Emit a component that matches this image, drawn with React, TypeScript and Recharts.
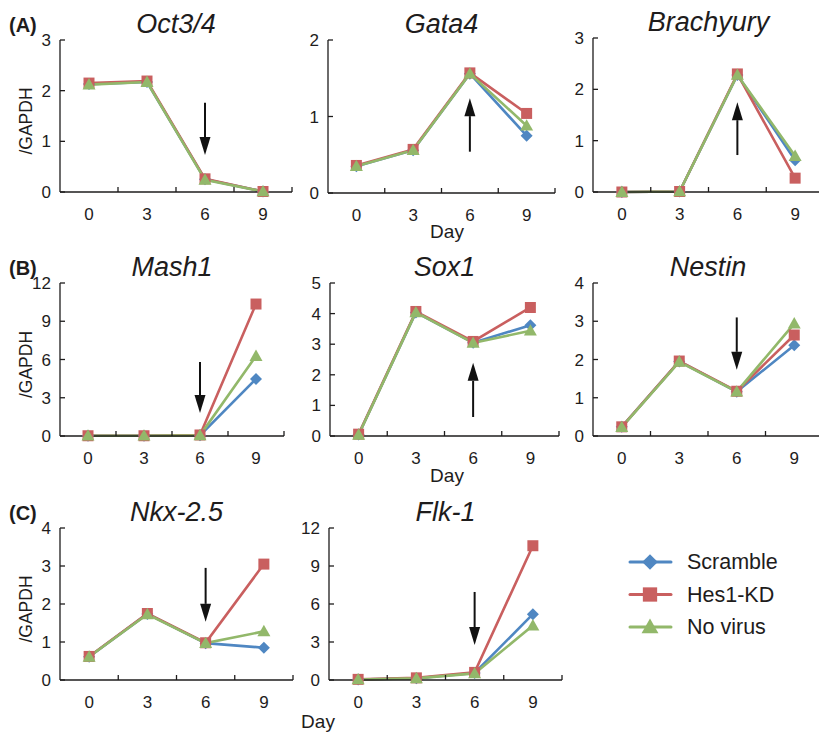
import React from "react";
import { LineChart, Line, XAxis, YAxis, ReferenceLine } from "recharts";

// days of differentiation
const days = [0, 3, 6, 9];
const dayTicks = [-1.5, 0, 1.5, 3, 4.5, 6, 7.5, 9, 10.5];

// relative expression (/GAPDH), one array per gene and condition
const oct4Scr = [2.13, 2.17, 0.25, 0.01];
const oct4Hes = [2.15, 2.19, 0.26, 0.01];
const oct4Nov = [2.12, 2.17, 0.24, 0.01];

const gata4Scr = [0.35, 0.56, 1.56, 0.75];
const gata4Hes = [0.36, 0.57, 1.57, 1.04];
const gata4Nov = [0.35, 0.56, 1.56, 0.88];

const brachScr = [0, 0.01, 2.28, 0.62];
const brachHes = [0, 0.01, 2.3, 0.27];
const brachNov = [0, 0.01, 2.28, 0.7];

const mash1Scr = [0.02, 0.02, 0.05, 4.47];
const mash1Hes = [0.02, 0.02, 0.08, 10.35];
const mash1Nov = [0.02, 0.02, 0.05, 6.27];

const sox1Scr = [0.05, 4.04, 3.05, 3.62];
const sox1Hes = [0.06, 4.07, 3.09, 4.2];
const sox1Nov = [0.04, 4.04, 3.04, 3.44];

const nestinScr = [0.24, 1.95, 1.16, 2.37];
const nestinHes = [0.24, 1.96, 1.17, 2.64];
const nestinNov = [0.23, 1.94, 1.16, 2.94];

const nkxScr = [0.61, 1.74, 0.97, 0.85];
const nkxHes = [0.62, 1.75, 0.98, 3.05];
const nkxNov = [0.61, 1.73, 0.97, 1.28];

const flk1Scr = [0.04, 0.14, 0.55, 5.2];
const flk1Hes = [0.05, 0.17, 0.6, 10.6];
const flk1Nov = [0.04, 0.13, 0.52, 4.3];

// arrow annotations at day 6: [tail, tip] in /GAPDH units
const oct4Arrow = [1.76, 0.73];
const gata4Arrow = [0.54, 1.24];
const brachArrow = [0.72, 1.75];
const mash1Arrow = [5.8, 1.8];
const sox1Arrow = [0.62, 2.39];
const nestinArrow = [3.1, 1.73];
const nkxArrow = [2.95, 1.53];
const flk1Arrow = [6.95, 2.76];

const series = [
  { key: "scr", name: "Scramble", color: "#4f87c2", shape: "diamond" },
  { key: "hes", name: "Hes1-KD", color: "#c95f5f", shape: "square" },
  { key: "nov", name: "No virus", color: "#92b86a", shape: "triangle" },
];

const INK = "#1e1c1c";
const FONT = "'Liberation Sans', Arial, sans-serif";

const panels = [
  { title: "Oct3/4", scr: oct4Scr, hes: oct4Hes, nov: oct4Nov, max: 3, step: 1, arrow: oct4Arrow, box: [60, 292, 40, 192], ylab: true, tag: "(A)" },
  { title: "Gata4", scr: gata4Scr, hes: gata4Hes, nov: gata4Nov, max: 2, step: 1, arrow: gata4Arrow, box: [328, 555, 40, 193] },
  { title: "Brachyury", scr: brachScr, hes: brachHes, nov: brachNov, max: 3, step: 1, arrow: brachArrow, box: [593, 824, 38, 192] },
  { title: "Mash1", scr: mash1Scr, hes: mash1Hes, nov: mash1Nov, max: 12, step: 3, arrow: mash1Arrow, box: [60, 284, 283, 436], ylab: true, tag: "(B)" },
  { title: "Sox1", scr: sox1Scr, hes: sox1Hes, nov: sox1Nov, max: 5, step: 1, arrow: sox1Arrow, box: [330, 559, 283, 436] },
  { title: "Nestin", scr: nestinScr, hes: nestinHes, nov: nestinNov, max: 4, step: 1, arrow: nestinArrow, box: [593, 823, 283, 436] },
  { title: "Nkx-2.5", scr: nkxScr, hes: nkxHes, nov: nkxNov, max: 4, step: 1, arrow: nkxArrow, box: [60, 293, 528, 680], ylab: true, tag: "(C)" },
  { title: "Flk-1", scr: flk1Scr, hes: flk1Hes, nov: flk1Nov, max: 12, step: 3, arrow: flk1Arrow, box: [329, 562, 528, 680] },
];

const dayLabels = [
  { x: 447, y: 238 },
  { x: 447, y: 482 },
  { x: 318, y: 728 },
];

function markerPath(shape: string, cx: number, cy: number) {
  if (shape === "diamond") {
    const r = 6;
    return `M${cx},${cy - r}L${cx + r},${cy}L${cx},${cy + r}L${cx - r},${cy}Z`;
  }
  if (shape === "square") {
    const r = 5.5;
    return `M${cx - r},${cy - r}h${2 * r}v${2 * r}h${-2 * r}Z`;
  }
  const r = 6.5;
  return `M${cx},${cy - r}L${cx + r},${cy + r * 0.75}L${cx - r},${cy + r * 0.75}Z`;
}

const makeDot = (shape: string, color: string) => (p: any) => {
  const { cx, cy, index } = p;
  if (cx == null || cy == null) return <g key={`${shape}-${index}`} />;
  return <path key={`${shape}-${index}`} d={markerPath(shape, cx, cy)} fill={color} />;
};

const XTick = (p: any) => {
  const { x, y, payload } = p;
  const v = payload.value;
  if (days.includes(v)) {
    return (
      <text x={x} y={y + 28} textAnchor="middle" fontSize={17} fill={INK}>
        {v}
      </text>
    );
  }
  if (v === -1.5) return <g />;
  return <line x1={x} y1={y} x2={x} y2={y - 5} stroke={INK} strokeWidth={1.3} />;
};

const YTick = (p: any) => {
  const { x, y, payload } = p;
  return (
    <g>
      <line x1={x} y1={y} x2={x + 5} y2={y} stroke={INK} strokeWidth={1.3} />
      <text x={x - 9} y={y + 6} textAnchor="end" fontSize={17} fill={INK}>
        {payload.value}
      </text>
    </g>
  );
};

const arrowShape = (p: any) => {
  const { x1, y1, x2, y2 } = p;
  if (x1 == null) return <g />;
  const dir = y2 > y1 ? 1 : -1;
  const head = 18;
  const half = 5.5;
  return (
    <g>
      <line x1={x1} y1={y1} x2={x2} y2={y2 - dir * head} stroke="#111" strokeWidth={2} />
      <path d={`M${x2 - half},${y2 - dir * head}L${x2 + half},${y2 - dir * head}L${x2},${y2}Z`} fill="#111" />
    </g>
  );
};

const ML = 60;
const MT = 45;
const MB = 35;
const MR = 6;

function Panel({ panel }: { panel: any }) {
  const [L, R, T, B] = panel.box;
  const data = days.map((d, i) => ({ day: d, scr: panel.scr[i], hes: panel.hes[i], nov: panel.nov[i] }));
  const yTicks: number[] = [];
  for (let v = 0; v <= panel.max; v += panel.step) yTicks.push(v);
  const w = R - L + ML + MR;
  const h = B - T + MT + MB;
  return (
    <div style={{ position: "absolute", left: L - ML, top: T - MT }}>
      <LineChart width={w} height={h} data={data} margin={{ top: MT, right: MR, bottom: 0, left: 0 }}>
        <XAxis
          type="number"
          dataKey="day"
          domain={[-1.5, 10.5]}
          ticks={dayTicks}
          interval={0}
          tick={XTick}
          tickLine={false}
          tickSize={0}
          tickMargin={0}
          height={MB}
          axisLine={{ stroke: INK, strokeWidth: 1.3 }}
        />
        <YAxis
          type="number"
          domain={[0, panel.max]}
          ticks={yTicks}
          interval={0}
          tick={YTick}
          tickLine={false}
          tickSize={0}
          tickMargin={0}
          width={ML}
          axisLine={{ stroke: INK, strokeWidth: 1.3 }}
        />
        <ReferenceLine
          segment={[
            { x: 6, y: panel.arrow[0] },
            { x: 6, y: panel.arrow[1] },
          ]}
          shape={arrowShape}
          ifOverflow="visible"
        />
        {series.map((s) => (
          <Line
            key={s.key}
            dataKey={s.key}
            name={s.name}
            stroke={s.color}
            strokeWidth={2.6}
            dot={makeDot(s.shape, s.color)}
            activeDot={false}
            isAnimationActive={false}
          />
        ))}
      </LineChart>
    </div>
  );
}

export default function App() {
  return (
    <div style={{ position: "relative", width: 819, height: 733, overflow: "hidden", background: "#fff", fontFamily: FONT }}>
      <style>{`body{margin:0;overflow:hidden;}`}</style>
      {panels.map((p) => (
        <Panel key={p.title} panel={p} />
      ))}
      <svg width={819} height={733} style={{ position: "absolute", left: 0, top: 0, pointerEvents: "none" }}>
        {panels.map((p) => {
          const [L, R, T] = p.box;
          return (
            <text key={p.title} x={(L + R) / 2} y={T - 7} textAnchor="middle" fontSize={27} fontStyle="italic" fill={INK}>
              {p.title}
            </text>
          );
        })}
        {panels
          .filter((p) => p.tag)
          .map((p) => (
            <text key={p.tag} x={9} y={p.box[2] - 8} fontSize={20} fontWeight="bold" fill={INK}>
              {p.tag}
            </text>
          ))}
        {panels
          .filter((p) => p.ylab)
          .map((p) => {
            const cy = (p.box[2] + p.box[3]) / 2 + 5;
            return (
              <text key={`y-${p.title}`} x={32} y={cy} textAnchor="middle" fontSize={17.5} fill={INK} transform={`rotate(-90, 32, ${cy})`}>
                /GAPDH
              </text>
            );
          })}
        {dayLabels.map((d, i) => (
          <text key={i} x={d.x} y={d.y} textAnchor="middle" fontSize={19} fill={INK}>
            Day
          </text>
        ))}
        {series.map((s, i) => {
          const y = 562 + i * 32.5;
          return (
            <g key={s.key}>
              <line x1={630} y1={y} x2={671} y2={y} stroke={s.color} strokeWidth={3} strokeLinecap="round" />
              <path d={markerPath(s.shape, 650, y)} fill={s.color} transform={`translate(650 ${y}) scale(1.3) translate(-650 ${-y})`} />
              <text x={687} y={y + 7} fontSize={21.5} fill={INK}>
                {s.name}
              </text>
            </g>
          );
        })}
      </svg>
    </div>
  );
}
